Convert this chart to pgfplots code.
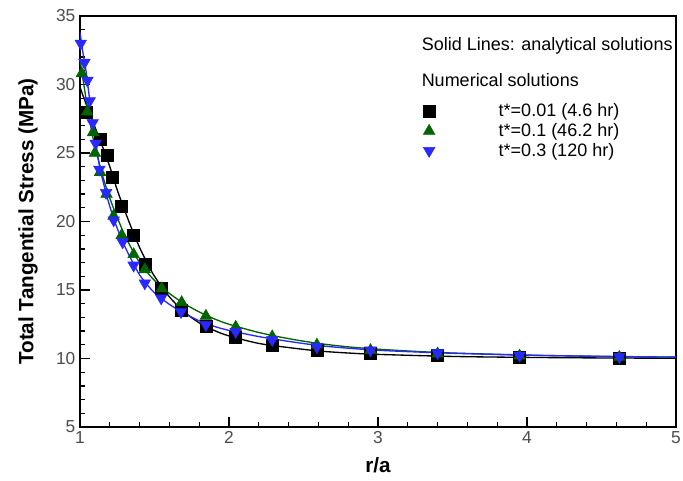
\documentclass[border=0pt]{standalone}
\usepackage{fontspec}
\setmainfont{Liberation Sans}
\usepackage{pgfplots}
\pgfplotsset{compat=1.18}
\definecolor{tgreen}{RGB}{0,100,0}
\definecolor{tblue}{RGB}{40,40,255}

\begin{document}
\begin{tikzpicture}
\begin{axis}[
  scale only axis,
  width=447pt, height=308.25pt,
  xmin=1, xmax=5, ymin=5, ymax=35,
  xtick={1,2,3,4,5}, ytick={5,10,...,35},
  minor x tick num=4, minor y tick num=4,
  tick pos=left, tick align=inside,
  major tick length=7.5pt, minor tick length=4pt,
  every tick/.style={black, line width=1pt},
  axis line style={line width=1.8pt},
  tick label style={font=\fontsize{13}{15}\selectfont, text=black!70},
  /pgf/number format/assume math mode=true,
  xlabel={r/a}, ylabel={Total Tangential Stress (MPa)},
  label style={font=\fontsize{15.5}{18}\selectfont\bfseries},
  xlabel style={at={(axis description cs:0.5,-0.094)}, anchor=center},
  ylabel style={at={(axis description cs:-0.0872,0.5)}, anchor=center},
  legend style={at={(rel axis cs:0.567,0.80)}, anchor=north west,
    draw=none, fill=none, font=\fontsize{13.5}{16}\selectfont, row sep=-0.5pt},
  legend cell align=left,
  legend image code/.code={\path (-5pt,0pt) (50pt,0pt); \draw[#1] plot coordinates {(0pt,0pt)};},
]
% analytical solutions (solid lines)
\addplot[forget plot, black, line width=1pt, smooth] coordinates {
(1.0,29.8) (1.05,28.3) (1.1,26.9) (1.15,25.5) (1.2,24.0) (1.25,22.3) (1.3,20.8)
(1.35,19.4) (1.4,18.1) (1.45,17.0) (1.5,16.0) (1.6,14.5) (1.7,13.4) (1.8,12.6)
(1.9,12.05) (2.0,11.65) (2.2,11.1) (2.4,10.8) (2.6,10.55) (2.8,10.4) (3.0,10.3)
(3.5,10.15) (4.0,10.08) (4.5,10.04) (5.0,10.02)};
\addplot[forget plot, tgreen, line width=1pt, smooth] coordinates {
(1.0,31.8) (1.02,30.4) (1.05,28.3) (1.08,26.5) (1.1,25.5) (1.15,23.4) (1.2,21.7)
(1.25,20.3) (1.3,19.0) (1.35,17.95) (1.4,17.0) (1.45,16.3) (1.5,15.7) (1.6,14.75)
(1.7,14.0) (1.8,13.4) (1.9,12.9) (2.0,12.5) (2.2,11.9) (2.4,11.45) (2.6,11.1)
(2.8,10.85) (3.0,10.68) (3.25,10.52) (3.5,10.4) (4.0,10.25) (4.5,10.15) (5.0,10.1)};
\addplot[forget plot, tblue, line width=1pt, smooth] coordinates {
(1.0,33.8) (1.02,32.3) (1.04,31.0) (1.06,29.3) (1.08,27.6) (1.1,26.2) (1.13,24.1)
(1.16,22.7) (1.2,21.1) (1.25,19.5) (1.3,18.2) (1.35,17.1) (1.4,16.1) (1.45,15.4)
(1.5,14.8) (1.6,13.95) (1.7,13.3) (1.8,12.75) (1.9,12.35) (2.0,12.05) (2.2,11.6)
(2.4,11.25) (2.6,10.95) (2.8,10.75) (3.0,10.6) (3.25,10.48) (3.5,10.38) (4.0,10.24)
(4.5,10.16) (5.0,10.1)};
% numerical solutions (markers)
\addplot[only marks, mark=square*, mark size=4.5pt, black] coordinates {
(1.045,28.0) (1.135,26.0) (1.18,24.8) (1.218,23.2) (1.278,21.1) (1.36,19.0)
(1.435,16.9) (1.545,15.1) (1.678,13.5) (1.845,12.35) (2.045,11.55) (2.29,11.0)
(2.59,10.6) (2.95,10.4) (3.40,10.25) (3.95,10.12) (4.62,10.05)};
\addplot[only marks, mark=triangle*, mark size=5pt, tgreen] coordinates {
(1.012,30.8) (1.048,28.0) (1.088,26.5) (1.1,25.0) (1.135,23.6) (1.178,22.0)
(1.225,20.4) (1.28,19.0) (1.36,17.6) (1.435,16.5) (1.548,15.1) (1.682,14.1)
(1.845,13.1) (2.045,12.3) (2.29,11.6) (2.59,11.0) (2.95,10.6) (3.40,10.35)
(3.95,10.2) (4.62,10.1)};
\addplot[only marks, mark=triangle*, mark size=5pt, mark options={rotate=180}, tblue] coordinates {
(1.005,33.0) (1.03,31.6) (1.05,30.3) (1.065,28.8) (1.085,27.2) (1.105,25.7)
(1.13,23.8) (1.175,22.1) (1.226,20.1) (1.286,18.5) (1.36,16.8) (1.435,15.5)
(1.545,14.4) (1.678,13.4) (1.845,12.45) (2.045,11.95) (2.29,11.35) (2.59,10.85)
(2.95,10.6) (3.40,10.4) (3.95,10.22) (4.62,10.12)};
\legend{t*=0.01 (4.6 hr), t*=0.1 (46.2 hr), t*=0.3 (120 hr)}
\node[anchor=west, font=\fontsize{13.5}{16}\selectfont] at (rel axis cs:0.5655,0.927) {Solid Lines: analytical solutions};
\node[anchor=west, font=\fontsize{13.5}{16}\selectfont] at (rel axis cs:0.5655,0.844) {Numerical solutions};
\end{axis}
\pgfresetboundingbox
\path[use as bounding box] (-60pt,-40.5pt) rectangle (452.25pt,320.25pt);
\end{tikzpicture}
\end{document}
